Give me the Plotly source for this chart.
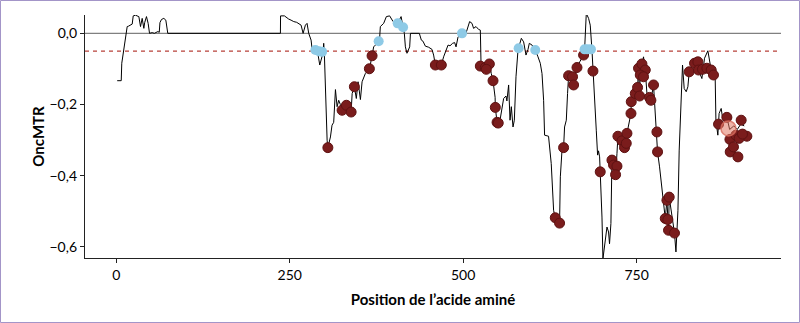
import plotly.graph_objects as go

# OncMTR profile along the protein (residue position, score)
line_pos = [1.4, 7.2, 8, 10, 13.4, 15.8, 17.5, 20, 23, 24.5, 27.8, 30, 32.6, 35, 37.4, 39.8, 41, 43.6, 46, 48,
            51.8, 55, 58, 60, 62, 63, 65.2, 68.6, 71.5, 73, 74.3,
            236.6, 236.8, 242.4, 245, 248.6, 252, 255.8, 260, 263, 266.4, 269.3, 272.6, 275, 277.4, 280.8, 282.3,
            287, 290, 293.3, 296.7, 298, 299, 300, 303.9, 305, 308.7, 311, 313.4, 315.9, 318.3, 320.6, 323,
            325.5, 328, 331.7, 335, 338.5, 340, 343.2, 346, 348.5, 351.9, 354.3, 359, 364.8, 366, 368.7, 371,
            375, 378.2, 379.7, 380.6, 385.4, 389.3, 394, 399, 405.6, 410.5, 413.4, 415.2, 416.7, 419, 422.9,
            424, 436.8, 439.7, 442, 445.5, 450.2, 455, 457.4, 459.9, 464, 468.5, 471.8, 475.3, 478.2, 481,
            484.8, 487.7, 489.7, 492.6, 498.3, 504, 509.3, 512.7, 515, 518.5, 522.2, 524.7, 525.7, 531.9,
            537.7, 540.5, 543, 546, 546.3, 548.8, 551, 553.5, 556, 558.3, 561.7, 563, 565.5, 567.5, 569.4,
            571.8, 573.7, 576.1, 579, 583.8, 587.1, 590.5, 593.4, 595.3, 599.2, 603.9, 607.8, 611.1, 613.6,
            615.9, 617.3, 623, 626.9, 628.8, 630.3, 632.7, 635, 638.9, 640, 642.4, 644.7, 646.1, 648.6,
            650.4, 651.9, 657.6, 659.1, 661, 664, 668, 673.5, 675, 677.4, 680.7, 683.1, 685.6, 687, 689.3,
            691.8, 693.7, 695, 696.6, 697.5, 700, 701.4, 704.7, 707.2, 709.5, 710.9, 712.9, 714.4, 716.7,
            719.6, 721.6, 723, 728.8, 732.5, 735, 736, 741.8, 742.2, 748, 751.3, 752.7, 754.2, 755.2, 757.6,
            759.9, 762.4, 764.8, 768.5, 770.5, 774.3, 776.8, 779.2, 780.1, 783, 786.4, 791.2, 793.6, 795,
            795.9, 796.9, 801.7, 804.5, 806.6, 809.5, 811.3, 814.2, 816.1, 818.5, 821.4, 823.8, 825.7,
            833.4, 838.2, 839.1, 844, 847.8, 852.6, 857.4, 860.7, 863.2, 864.2, 867, 868.8, 871.8, 874,
            880, 884, 890, 895, 900, 905]
line_score = [-0.133, -0.133, -0.084, -0.056, -0.019, 0.019, 0.020, 0.022, 0.026, 0.049, 0.051, 0.049, 0.047,
              0.019, 0.042, 0.014, 0.030, 0.047, 0.028, 0.000, 0.002, 0.000, 0.004, 0.005, 0.003, 0.030, 0.039,
              0.042, 0.037, 0.010, 0.000,
              0.000, 0.049, 0.049, 0.045, 0.040, 0.037, 0.033, 0.031, 0.028, 0.023, 0.000, 0.023, 0.028, 0.000,
              -0.019, -0.045, -0.047, -0.050, -0.089, -0.066, -0.055, -0.028, -0.060, -0.300, -0.321, -0.291,
              -0.258, -0.250, -0.158, -0.206, -0.188, -0.200, -0.216, -0.205, -0.202, -0.210, -0.221, -0.169,
              -0.150, -0.183, -0.136, -0.186, -0.136, -0.113, -0.0995, -0.090, -0.063, -0.038, -0.030, -0.022,
              -0.010, 0.019, 0.028, 0.047, 0.049, 0.033, 0.028, 0.047, 0.017, 0.000, -0.038, -0.056, -0.038,
              0.000, 0.000, -0.019, -0.022, -0.036, -0.039, -0.045, -0.061, -0.089, -0.085, -0.089, -0.066,
              -0.045, -0.033, -0.035, -0.028, -0.026, -0.038, -0.010, 0.000, 0.000, 0.033, 0.028, 0.014, 0.019,
              0.011, 0.009, -0.084, -0.096, -0.086, -0.113, -0.133, -0.180, -0.208, -0.250, -0.250, -0.239,
              -0.206, -0.183, -0.176, -0.190, -0.145, -0.244, -0.206, -0.263, -0.244, -0.122, -0.047, -0.014,
              -0.024, -0.061, -0.045, -0.028, -0.033, -0.047, -0.066, -0.084, -0.113, -0.188, -0.286, -0.289,
              -0.366, -0.450, -0.497, -0.518, -0.530, -0.533, -0.403, -0.328, -0.321, -0.263, -0.244, -0.169,
              -0.119, -0.122, -0.145, -0.120, -0.096, -0.080, -0.061, -0.045, 0.056, 0.042, 0.023, -0.047,
              -0.106, -0.178, -0.272, -0.342, -0.330, -0.347, -0.389, -0.516, -0.633, -0.581, -0.544, -0.558,
              -0.591, -0.534, -0.356, -0.370, -0.397, -0.338, -0.289, -0.302, -0.321, -0.309, -0.281, -0.225,
              -0.192, -0.169, -0.152, -0.098, -0.176, -0.117, -0.086, -0.066, -0.103, -0.169, -0.180, -0.188,
              -0.145, -0.216, -0.277, -0.333, -0.375, -0.441, -0.520, -0.469, -0.523, -0.553, -0.460, -0.534,
              -0.561, -0.614, -0.497, -0.328, -0.159, -0.089, -0.155, -0.164, -0.150, -0.108, -0.084, -0.080,
              -0.103, -0.127, -0.070, -0.049, -0.103, -0.117, -0.131, -0.244, -0.286, -0.225, -0.211, -0.240,
              -0.236, -0.270, -0.260, -0.270, -0.255, -0.260]

# Variants below threshold (dark red)
dark_pos = [305, 325.5, 331.7, 338.5, 343.2, 364.8, 368.7, 459.9, 468.5, 524.7, 531.9, 537.7, 533.3, 543,
            546.3, 548.8, 550.5, 632.7, 638.9, 644.7, 651.9, 657.6, 659.1, 664, 673.5, 687, 697.5, 714.4,
            716.7, 721.6, 719.6, 723, 728.8, 732.5, 736, 735, 741.8, 742.2, 748, 751.3, 754.2, 752.7, 757.6,
            762.4, 755.2, 759.9, 768.5, 770.5, 774.3, 779.2, 780.1, 793.6, 791.2, 795.9, 796.9, 795, 804.5,
            825.7, 833.4, 838.2, 839.1, 844.9, 851.2, 857.4, 860.7, 868, 880, 900.6, 884.4, 893, 908.8,
            897.7, 884.8, 889.5, 895.9, 902.5]
dark_score = [-0.321, -0.216, -0.202, -0.221, -0.150, -0.0995, -0.063, -0.089, -0.089, -0.092, -0.096, -0.086,
              -0.101, -0.133, -0.208, -0.250, -0.252, -0.518, -0.533, -0.321, -0.119, -0.122, -0.145, -0.096,
              -0.061, -0.106, -0.389, -0.356, -0.370, -0.373, -0.397, -0.289, -0.302, -0.321, -0.281, -0.309,
              -0.225, -0.192, -0.169, -0.152, -0.176, -0.098, -0.086, -0.103, -0.117, -0.122, -0.180, -0.188,
              -0.145, -0.277, -0.333, -0.469, -0.520, -0.553, -0.460, -0.523, -0.561, -0.108, -0.084, -0.080,
              -0.103, -0.101, -0.098, -0.103, -0.117, -0.255, -0.236, -0.244, -0.298, -0.286, -0.289, -0.295,
              -0.333, -0.319, -0.347, -0.283]

# Variants above threshold (light blue)
blue_pos = [287, 292, 296.7, 378.2, 405.6, 413.4, 498.3, 579.9, 603.9, 675, 679, 684.1]
blue_score = [-0.047, -0.050, -0.052, -0.022, 0.028, 0.017, 0.000, -0.042, -0.047, -0.045, -0.045, -0.045]

# Highlighted variant
hl_pos = [882.3]
hl_score = [-0.267]

threshold = -0.05
x_ticks = [0, 250, 500, 750]
y_ticks = [0.0, -0.2, -0.4, -0.6]
y_ticklabels = ["0,0", "\u22120,2", "\u22120,4", "\u22120,6"]

FONT = "Lato, Liberation Sans, Arial, sans-serif"

fig = go.Figure()
fig.add_hline(y=0, line=dict(color="#808080", width=1.2), layer="below")
fig.add_hline(y=threshold, line=dict(color="#b8413a", width=1.4, dash="4px,4px"), layer="below")

fig.add_trace(go.Scatter(x=line_pos, y=line_score, mode="lines",
                         line=dict(color="black", width=1), hoverinfo="skip"))
fig.add_trace(go.Scatter(x=dark_pos, y=dark_score, mode="markers",
                         marker=dict(size=10, color="#7a1c1c", line=dict(color="#5e1212", width=1))))
fig.add_trace(go.Scatter(x=blue_pos, y=blue_score, mode="markers",
                         marker=dict(size=10, color="#8ecae6", line=dict(width=0))))
fig.add_trace(go.Scatter(x=hl_pos, y=hl_score, mode="markers",
                         marker=dict(size=15, color="rgba(225,120,100,0.55)",
                                     line=dict(color="rgba(215,110,95,0.8)", width=1.5))))

L, R, T, B, W, H = 85, 19, 15, 65, 800, 323
pw, ph = W - L - R, H - T - B
fig.add_shape(type="rect", xref="paper", yref="paper",
              x0=(0.5 - L) / pw, x1=(W - 0.5 - L) / pw,
              y0=(H - B - (H - 0.5)) / ph, y1=(H - B - 0.5) / ph,
              line=dict(color="#a395c8", width=1), fillcolor="rgba(0,0,0,0)")

fig.update_layout(
    width=W, height=H, margin=dict(l=L, r=R, t=T, b=B),
    plot_bgcolor="white", paper_bgcolor="white", showlegend=False,
    font=dict(family=FONT, size=14, color="black"),
)
fig.update_xaxes(range=[-45, 958], tickvals=x_ticks, ticks="outside", ticklen=4, tickwidth=1.2,
                 tickcolor="#222", showline=True, linecolor="#222", linewidth=1.3, showgrid=False,
                 zeroline=False, tickfont=dict(size=14),
                 title=dict(text="<b>Position de l\u2019acide aminé</b>", font=dict(size=15), standoff=12))
fig.update_yaxes(range=[-0.631, 0.0515], tickvals=y_ticks, ticktext=y_ticklabels, ticks="outside",
                 ticklen=4, tickwidth=1.2, tickcolor="#222", showline=True, linecolor="#222", linewidth=1.3,
                 showgrid=False, zeroline=False, tickfont=dict(size=14),
                 title=dict(text="<b>OncMTR</b>", font=dict(size=15), standoff=1))

fig.write_html("out.html")
